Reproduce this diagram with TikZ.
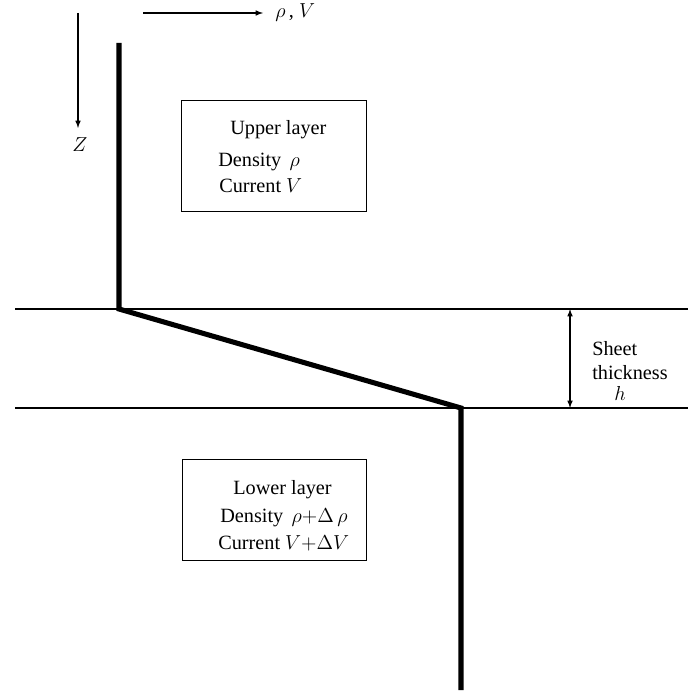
\documentclass[tikz,border=0pt]{standalone}
\usepackage{fontspec}
\setmainfont{Liberation Serif}
\usepackage{amsmath}
\usetikzlibrary{arrows,positioning}

\begin{document}
\begin{tikzpicture}[x=0.025cm,y=-0.025cm,
  font=\fontsize{14.4}{17}\selectfont,
  thin line/.style={black,line width=0.8pt},
  thick line/.style={black,line width=3.6pt,line join=miter},
  layer box/.style={draw,line width=0.7pt,inner sep=0pt},
  txt/.style={anchor=base west,inner sep=0pt}]
\useasboundingbox (0,0) rectangle (688,695);
% axes
\coordinate (zTop) at (78,13);
\coordinate (zEnd) at (78,128);
\draw[thin line,-latex] (zTop) -- (zEnd);
\node[txt] (zLabel) at (72,152) {$Z$};
\coordinate (xStart) at (143,13);
\coordinate (xEnd) at (263,13);
\draw[thin line,-latex] (xStart) -- (xEnd);
\node[txt,right=3mm of xEnd,anchor=west] (xLabel) {$\rho$\,, $V$};
% interfaces
\coordinate (topL) at (15,309);
\coordinate (topR) at (688,309);
\coordinate (botL) at (15,408);
\coordinate (botR) at (688,408);
\draw[thin line] (topL) -- (topR);
\draw[thin line] (botL) -- (botR);
% density profile
\coordinate (p0) at (119,43);
\coordinate (p1) at (119,309);
\coordinate (p2) at (461,408);
\coordinate (p3) at (461,690);
\draw[thick line] (p0) -- (p1) -- (p2) -- (p3);
% upper layer
\node[layer box,minimum width=4.6cm,minimum height=2.75cm] (upperBox) at (274,156) {};
\node[txt] (upperTitle) at (230,135) {Upper layer};
\node[txt] (upperRho) at (218,167) {Density \,$\rho$};
\node[txt] (upperV) at (219,193) {Current $V$};
% lower layer
\node[layer box,minimum width=4.575cm,minimum height=2.5cm] (lowerBox) at (274.5,510) {};
\node[txt] (lowerTitle) at (233,494) {Lower layer};
\node[txt] (lowerRho) at (220,522) {Density \,$\rho{+}\Delta\,\rho$};
\node[txt] (lowerV) at (218,549) {Current $V{+}\Delta V$};
% sheet thickness
\coordinate (hTop) at (570,309);
\coordinate (hBot) at (570,408);
\draw[thin line,latex-latex] (hTop) -- (hBot);
\node[txt] (sheetA) at (592,355) {Sheet};
\node[txt] (sheetB) at (592,379) {thickness};
\node[txt] (sheetH) at (614,400) {$h$};
\end{tikzpicture}
\end{document}
